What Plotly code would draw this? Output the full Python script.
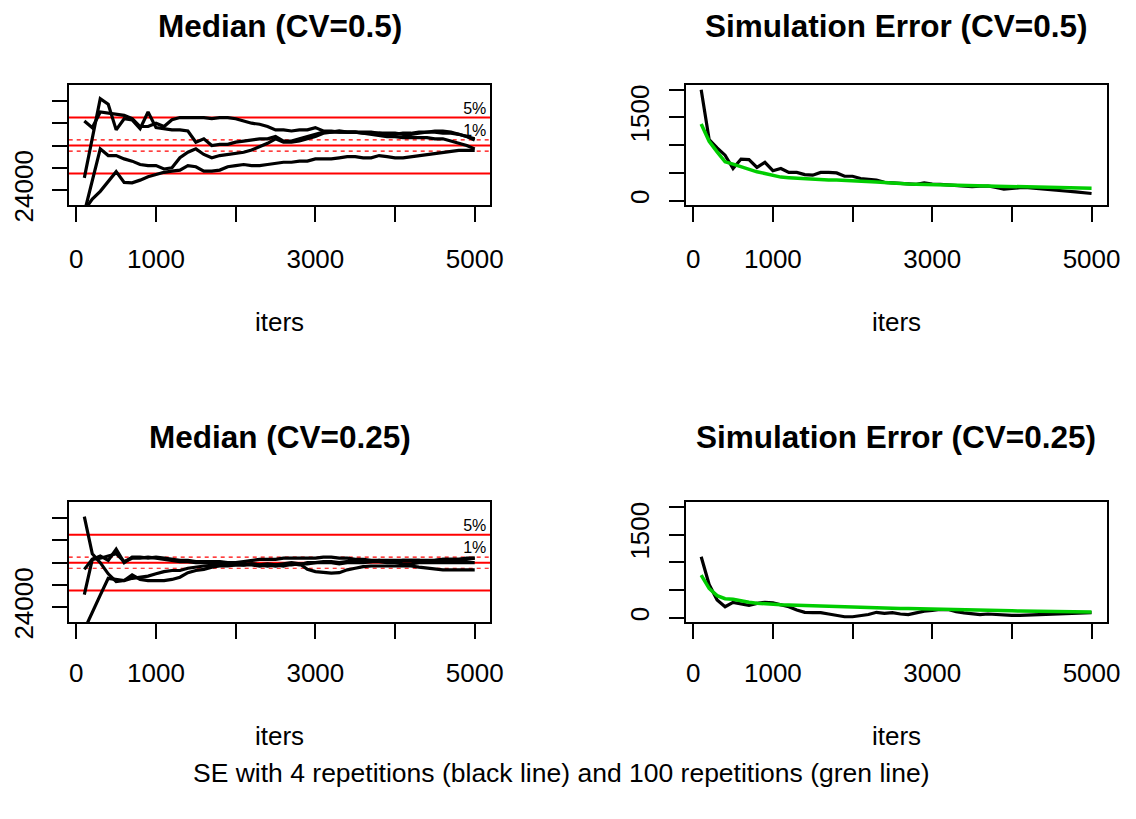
import plotly.graph_objects as go

W, H = 1136, 819
FONT = "Liberation Sans, Arial, Helvetica, sans-serif"

iters = [100, 200, 300, 400, 500, 600, 700, 800, 900, 1000,
         1100, 1200, 1300, 1400, 1500, 1600, 1700, 1800, 1900, 2000,
         2100, 2200, 2300, 2400, 2500, 2600, 2700, 2800, 2900, 3000,
         3100, 3200, 3300, 3400, 3500, 3600, 3700, 3800, 3900, 4000,
         4100, 4200, 4300, 4400, 4500, 4600, 4700, 4800, 4900, 5000]

# Median, CV=0.5 (4 repetitions)
med05_r1 = [27100, 26800, 27500, 27450, 27400, 27350, 27200, 26850, 26850, 27000,
            26850, 27150, 27250, 27250, 27250, 27250, 27200, 27250, 27250, 27200,
            27100, 27000, 26950, 26850, 26700, 26700, 26650, 26700, 26700, 26800,
            26650, 26650, 26600, 26600, 26600, 26550, 26550, 26550, 26500, 26500,
            26550, 26550, 26600, 26600, 26600, 26550, 26550, 26500, 26400, 26300]
med05_r2 = [24550, 26300, 28100, 27850, 26700, 27200, 27150, 26750, 27500, 26800,
            26750, 26700, 26700, 26650, 26150, 26300, 26000, 26050, 26050, 26150,
            26200, 26250, 26300, 26300, 26400, 26200, 26200, 26300, 26400, 26500,
            26600, 26600, 26650, 26600, 26600, 26550, 26500, 26450, 26400, 26400,
            26350, 26350, 26350, 26350, 26300, 26300, 26200, 26100, 26000, 25850]
med05_r3 = [23000, 24400, 25850, 25550, 25550, 25400, 25300, 25150, 25100, 25100,
            24950, 25000, 25450, 25700, 25850, 25600, 25450, 25550, 25600, 25650,
            25700, 25800, 25950, 26100, 26300, 26150, 26150, 26200, 26300, 26400,
            26550, 26600, 26600, 26600, 26600, 26600, 26600, 26550, 26550, 26550,
            26500, 26500, 26550, 26600, 26650, 26650, 26600, 26500, 26400, 26250]
med05_r4 = [23100, 23600, 23950, 24400, 24830, 24350, 24330, 24450, 24600, 24700,
            24800, 24850, 24900, 25100, 25050, 24850, 24850, 24900, 25050, 25100,
            25150, 25100, 25100, 25150, 25200, 25250, 25250, 25300, 25300, 25400,
            25400, 25400, 25450, 25500, 25500, 25450, 25450, 25550, 25500, 25450,
            25450, 25500, 25550, 25600, 25650, 25700, 25750, 25780, 25780, 25780]

# Median, CV=0.25 (4 repetitions)
med025_r1 = [28060, 26400, 26000, 25500, 25150, 25200, 25450, 25250, 25200, 25200,
             25200, 25250, 25350, 25550, 25650, 25700, 25800, 25850, 25850, 25900,
             25900, 25950, 25900, 25850, 25900, 25850, 25950, 25900, 26000, 26000,
             26050, 26050, 26000, 26050, 26100, 26050, 26050, 26100, 26050, 26050,
             26100, 26100, 26100, 26050, 26100, 26150, 26150, 26150, 26150, 26200]
med025_r2 = [24570, 26150, 26300, 26100, 26600, 26000, 26250, 26250, 26200, 26250,
             26200, 26150, 26100, 26100, 26050, 26050, 26050, 26050, 26000, 26000,
             26050, 26100, 26150, 26150, 26150, 26200, 26200, 26200, 26200, 26200,
             26250, 26250, 26200, 26200, 26150, 26150, 26100, 26100, 26100, 26100,
             26100, 26100, 26100, 26100, 26100, 26150, 26150, 26150, 26200, 26200]
med025_r3 = [23000, 23800, 24550, 25300, 25250, 25200, 25300, 25350, 25400, 25500,
             25600, 25650, 25650, 25750, 25800, 25850, 25850, 25900, 25900, 25900,
             25900, 25900, 25850, 25900, 25850, 25900, 25900, 25950, 25950, 26000,
             26000, 26000, 25950, 26000, 26000, 26000, 26050, 26050, 26000, 26000,
             25950, 25950, 26000, 26000, 26000, 26000, 26000, 26000, 26000, 26000]
med025_r4 = [25700, 26150, 26200, 26300, 26400, 26050, 26200, 26200, 26250, 26200,
             26150, 26100, 26050, 26050, 26000, 26000, 25950, 25950, 25900, 25950,
             25900, 25950, 25900, 25950, 25900, 25950, 26000, 25950, 25700, 25600,
             25550, 25530, 25550, 25680, 25750, 25820, 25850, 25850, 25850, 25850,
             25850, 25850, 25800, 25750, 25700, 25680, 25680, 25680, 25650, 25680]

# Simulation error, CV=0.5
se05_rep4 = [2000, 1100, 950, 820, 580, 750, 740, 600, 690, 540,
             580, 510, 510, 470, 460, 510, 510, 500, 440, 440,
             400, 390, 370, 330, 320, 310, 300, 295, 320, 300,
             295, 285, 280, 260, 255, 260, 265, 240, 210, 220,
             235, 235, 220, 205, 195, 180, 170, 160, 145, 130]
se05_rep100 = [1380, 1070, 880, 700, 660, 610, 560, 520, 490, 450,
               425, 415, 405, 395, 385, 380, 375, 372, 368, 360,
               352, 345, 338, 330, 315, 305, 300, 295, 290, 285,
               282, 280, 277, 275, 272, 268, 265, 262, 258, 255,
               252, 248, 245, 242, 238, 235, 232, 230, 227, 225]

# Simulation error, CV=0.25
se025_rep4 = [1100, 600, 320, 200, 280, 250, 225, 260, 280, 270,
              240, 200, 140, 100, 95, 95, 70, 50, 20, 20,
              40, 60, 100, 80, 95, 70, 60, 95, 120, 135,
              150, 150, 110, 90, 75, 60, 70, 60, 50, 45,
              45, 50, 65, 70, 75, 80, 85, 85, 90, 95]
se025_rep100 = [770, 530, 400, 345, 335, 300, 280, 265, 250, 240,
                235, 230, 225, 222, 218, 212, 205, 198, 192, 188,
                185, 182, 178, 175, 172, 170, 168, 166, 164, 162,
                160, 157, 154, 150, 146, 142, 138, 134, 130, 126,
                122, 120, 118, 116, 114, 112, 110, 108, 107, 106]

# Reference levels (true median, 5% and 1% bands)
ref_center = 26000
ref_5pct = [24750, 27250]
ref_1pct = [25750, 26250]
band_labels = ["5%", "1%"]

x_ticks = [0, 1000, 2000, 3000, 4000, 5000]
x_ticktext = ["0", "1000", "", "3000", "", "5000"]
med_ticks = [24000, 25000, 26000, 27000, 28000]
med_ticktext = ["24000", "", "", "", ""]
se_ticks = [0, 500, 1000, 1500, 2000]
se_ticktext = ["0", "", "", "1500", ""]

titles = ["Median (CV=0.5)", "Simulation Error (CV=0.5)",
          "Median (CV=0.25)", "Simulation Error (CV=0.25)"]
caption = "SE with 4 repetitions (black line) and 100 repetitions (gren line)"

fig = go.Figure()

# panel geometry in pixels
left_x = (69.5, 496.0)
right_x = (693.5, 1120.0)
top_y = (87.0, 209.5)
bot_y = (513.0, 635.5)


def xd(p):
    return [p[0] / W, p[1] / W]


def yd(p):
    return [1 - p[1] / H, 1 - p[0] / H]


panels = [
    ("x", "y", left_x, top_y, "med", 15),
    ("x2", "y2", right_x, top_y, "se", 15),
    ("x3", "y3", left_x, bot_y, "med", 12),
    ("x4", "y4", right_x, bot_y, "se", 12),
]

for xa, ya, series in [("x", "y", [med05_r1, med05_r2, med05_r3, med05_r4]),
                       ("x3", "y3", [med025_r1, med025_r2, med025_r3, med025_r4])]:
    fig.add_trace(go.Scatter(x=[5000, 5000], y=[ref_5pct[1], ref_1pct[1]],
                             mode="text", text=band_labels, textposition="top center",
                             textfont=dict(family=FONT, size=16, color="black"),
                             cliponaxis=False, showlegend=False, hoverinfo="skip",
                             xaxis=xa, yaxis=ya))
    for s in series:
        fig.add_trace(go.Scatter(x=iters, y=s, mode="lines",
                                 line=dict(color="black", width=3.2),
                                 showlegend=False, xaxis=xa, yaxis=ya))
    for lvl in ref_5pct + [ref_center]:
        fig.add_shape(type="line", xref=xa + " domain", yref=ya, x0=0, x1=1,
                      y0=lvl, y1=lvl, line=dict(color="#FF0000", width=2), layer="below")
    for lvl in ref_1pct:
        fig.add_shape(type="line", xref=xa + " domain", yref=ya, x0=0, x1=1,
                      y0=lvl, y1=lvl, line=dict(color="#FF0000", width=1.2, dash="4px,4px"),
                      layer="below")

for xa, ya, s4, s100 in [("x2", "y2", se05_rep4, se05_rep100),
                         ("x4", "y4", se025_rep4, se025_rep100)]:
    fig.add_trace(go.Scatter(x=iters, y=s4, mode="lines",
                             line=dict(color="black", width=3.2),
                             showlegend=False, xaxis=xa, yaxis=ya))
    fig.add_trace(go.Scatter(x=iters, y=s100, mode="lines",
                             line=dict(color="#00CD00", width=3.5),
                             showlegend=False, xaxis=xa, yaxis=ya))

axis_common = dict(showgrid=False, zeroline=False, showline=True, mirror=True,
                   linecolor="black", linewidth=1.5, ticks="outside", ticklen=15,
                   tickwidth=1.5, tickcolor="black",
                   tickfont=dict(family=FONT, size=26, color="black"))

layout_axes = {}
for i, (xa, ya, px, py, kind, xstand) in enumerate(panels):
    xname = "xaxis" if i == 0 else f"xaxis{i + 1}"
    yname = "yaxis" if i == 0 else f"yaxis{i + 1}"
    layout_axes[xname] = dict(axis_common, domain=xd(px), anchor=ya, range=[-96, 5196],
                              tickmode="array", tickvals=x_ticks, ticktext=x_ticktext,
                              ticklabelstandoff=xstand)
    if kind == "med":
        yr = [23330, 28700]
        tv, tt = med_ticks, med_ticktext
    else:
        yr = [-80, 2080]
        tv, tt = se_ticks, se_ticktext
    layout_axes[yname] = dict(axis_common, domain=yd(py), anchor=xa, range=yr,
                              tickmode="array", tickvals=tv, ticktext=tt,
                              tickangle=-90, ticklabelstandoff=9)

annotations = []
centers_x = [(left_x[0] + left_x[1]) / 2, (right_x[0] + right_x[1]) / 2]
for i, t in enumerate(titles):
    cx = centers_x[i % 2]
    cy = 27 if i < 2 else 446
    annotations.append(dict(text="<b>" + t + "</b>", x=cx / W, y=1 - cy / H,
                            xref="paper", yref="paper", showarrow=False,
                            xanchor="center", yanchor="middle",
                            font=dict(family=FONT, size=31.5, color="black")))
for cx in centers_x:
    for cy in (329, 752):
        annotations.append(dict(text="iters", x=cx / W, y=1 - cy / H,
                                xref="paper", yref="paper", showarrow=False,
                                xanchor="center", yanchor="middle",
                                font=dict(family=FONT, size=26, color="black")))
annotations.append(dict(text=caption, x=0.5, y=1 - 789 / H, xref="paper", yref="paper",
                        showarrow=False, xanchor="center", yanchor="middle",
                        font=dict(family=FONT, size=26.5, color="black")))

fig.update_layout(width=W, height=H, margin=dict(l=0, r=0, t=0, b=0),
                  paper_bgcolor="white", plot_bgcolor="white",
                  showlegend=False, annotations=annotations, **layout_axes)

fig.write_html("out.html")
